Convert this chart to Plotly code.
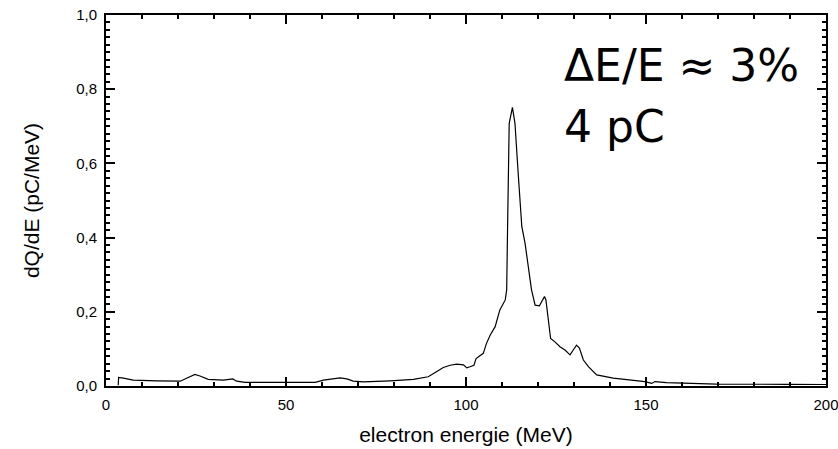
import plotly.graph_objects as go

# Electron energy spectrum (MeV) and charge density dQ/dE (pC/MeV)
energy_mev = [3.4, 3.5, 4.8, 7.6, 14.1, 20.6, 22.4, 24.7, 26.1, 28.4, 32.6, 35.2, 36.3, 38.6,
              51.1, 58.1, 60.4, 65.0, 66.9, 68.7, 71.5, 76.1, 78.9, 85.4, 89.5, 91.9, 93.7,
              95.6, 97.4, 99.3, 100.2, 101.1, 102.2, 102.8, 103.6, 104.8, 105.7, 106.7, 108.1,
              108.7, 109.4, 110.9, 111.3, 111.5, 111.75, 112.0, 112.9, 113.6, 114.5, 115.5,
              116.4, 117.3, 118.2, 119.2, 120.4, 121.0, 121.8, 122.2, 122.9, 123.5, 124.7,
              126.1, 127.5, 128.9, 129.8, 130.7, 131.5, 132.6, 134.0, 136.3, 140.9, 145.6,
              149.7, 151.6, 152.5, 155.7, 164.1, 169.6, 189.0, 200.0]
dq_de = [0.002, 0.023, 0.021, 0.016, 0.014, 0.013, 0.021, 0.031, 0.027, 0.018, 0.016, 0.019,
         0.013, 0.010, 0.010, 0.010, 0.016, 0.022, 0.019, 0.013, 0.011, 0.012, 0.014, 0.018,
         0.025, 0.039, 0.050, 0.056, 0.059, 0.057, 0.049, 0.052, 0.056, 0.074, 0.079, 0.088,
         0.115, 0.137, 0.160, 0.178, 0.205, 0.232, 0.259, 0.394, 0.618, 0.708, 0.751, 0.708,
         0.573, 0.430, 0.385, 0.322, 0.259, 0.218, 0.216, 0.227, 0.241, 0.232, 0.169, 0.128,
         0.119, 0.106, 0.097, 0.084, 0.097, 0.110, 0.102, 0.070, 0.052, 0.030, 0.021, 0.016,
         0.012, 0.007, 0.012, 0.009, 0.007, 0.005, 0.0045, 0.004]

x_title = "electron energie (MeV)"
y_title = "dQ/dE (pC/MeV)"
note_lines = ["ΔE/E ≈ 3%", "4 pC"]

FONT = "Liberation Sans, Arial, sans-serif"

fig = go.Figure()
fig.add_trace(go.Scatter(x=energy_mev, y=dq_de, mode="lines",
                         line=dict(color="black", width=1.2), showlegend=False))

axis_common = dict(
    showline=True, linecolor="black", linewidth=1.6, mirror="ticks",
    ticks="inside", ticklen=9, tickwidth=2, tickcolor="black",
    showgrid=False, zeroline=False, ticklabeloverflow="allow",
    tickfont=dict(family=FONT, size=15, color="black"),
)

fig.update_xaxes(range=[0, 200], dtick=50, tick0=0, ticklabelstandoff=4,
                 minor=dict(ticks="inside", ticklen=4, nticks=9, tickwidth=2,
                            tickcolor="black"),
                 title=dict(text=x_title, font=dict(family=FONT, size=21, color="black"),
                            standoff=16),
                 **axis_common)
fig.update_yaxes(range=[0, 1.0], dtick=0.2, tick0=0, tickformat=".1f", ticksuffix=" ",
                 minor=dict(ticks="inside", ticklen=4, nticks=11, tickwidth=2,
                            tickcolor="black"),
                 title=dict(text=y_title, font=dict(family=FONT, size=21, color="black"),
                            standoff=31),
                 **axis_common)

note_font = dict(family="DejaVu Sans", size=44, color="black")
fig.add_annotation(x=126.8, y=0.864, xref="x", yref="y", text=note_lines[0],
                   showarrow=False, xanchor="left", yanchor="middle", font=note_font)
fig.add_annotation(x=126.8, y=0.700, xref="x", yref="y", text=note_lines[1],
                   showarrow=False, xanchor="left", yanchor="middle", font=note_font)

fig.update_layout(
    width=838, height=449,
    margin=dict(l=106, r=12, t=15, b=63, autoexpand=False),
    paper_bgcolor="white", plot_bgcolor="white",
    separators=",.",
)

fig.write_html("out.html")
